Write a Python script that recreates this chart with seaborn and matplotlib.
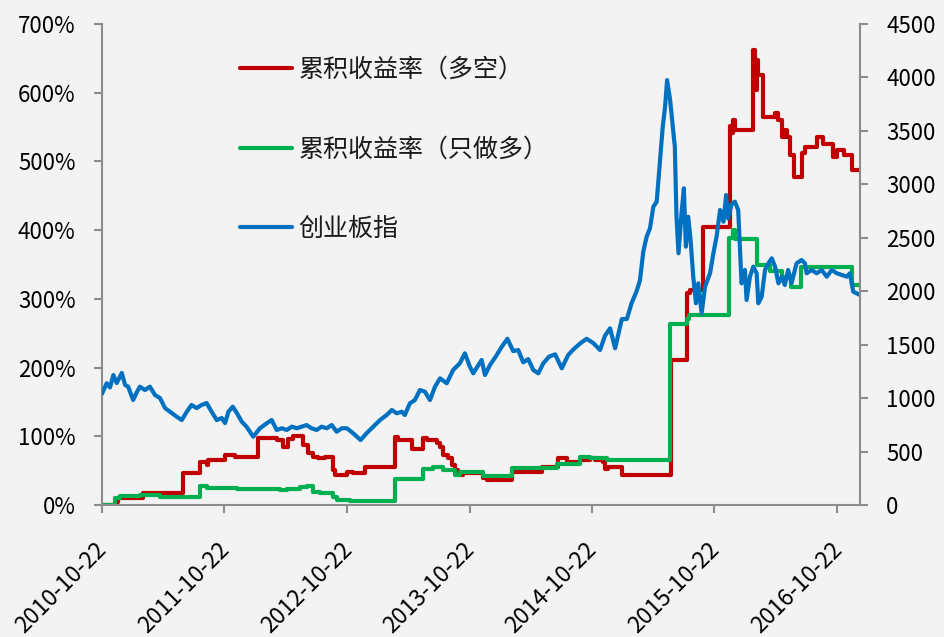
import matplotlib
matplotlib.use("Agg")
import matplotlib.pyplot as plt
import matplotlib.dates as mdates
from matplotlib.ticker import FuncFormatter, MultipleLocator
from matplotlib.transforms import ScaledTranslation
import seaborn as sns
import pandas as pd

# --- data ---
# 累积收益率（多空）: step series, date of change -> cumulative return (%)
ls_dates = ["2010-10-22", "2010-12-05", "2010-12-10", "2011-02-22", "2011-06-21", "2011-08-10",
            "2011-08-30", "2011-09-04", "2011-10-24", "2011-11-23", "2012-01-31", "2012-03-26",
            "2012-04-15", "2012-04-30", "2012-05-14", "2012-06-13", "2012-06-28", "2012-07-13",
            "2012-07-28", "2012-08-17", "2012-09-11", "2012-09-16", "2012-10-23", "2012-11-09",
            "2012-12-14", "2013-03-14", "2013-03-23", "2013-05-02", "2013-06-06", "2013-06-16",
            "2013-07-16", "2013-07-26", "2013-08-05", "2013-08-20", "2013-08-30", "2013-09-09",
            "2013-09-18", "2013-10-03", "2013-12-01", "2013-12-12", "2014-02-25", "2014-05-25",
            "2014-07-14", "2014-08-08", "2014-09-16", "2014-10-16", "2014-10-31", "2014-11-25",
            "2014-11-30", "2014-12-10", "2015-01-19", "2015-06-14", "2015-08-02", "2015-08-10",
            "2015-09-19", "2015-12-07", "2015-12-12", "2015-12-17", "2015-12-22", "2016-02-15",
            "2016-02-20", "2016-02-25", "2016-03-01", "2016-03-16", "2016-04-20", "2016-04-30",
            "2016-05-10", "2016-05-19", "2016-05-26", "2016-06-03", "2016-06-16", "2016-07-08",
            "2016-07-18", "2016-08-22", "2016-09-11", "2016-10-11", "2016-10-21", "2016-11-10",
            "2016-12-04", "2016-12-29"]
ls_values = [0, 5, 10, 17, 46, 63, 58, 66, 73, 70, 97, 95, 85, 96, 101, 88, 75, 70, 68, 70,
             51, 44, 48, 46, 55, 99, 95, 81, 98, 95, 90, 85, 73, 68, 58, 51, 44, 47, 39, 36,
             48, 56, 69, 62, 65, 68, 66, 63, 53, 56, 43, 211, 308, 313, 405, 551, 542, 561, 546, 662,
             604, 648, 626, 565, 570, 560, 536, 546, 536, 509, 478, 512, 521, 536, 526, 507, 517, 509,
             488, 488]

# 累积收益率（只做多）
lo_dates = ["2010-10-22", "2010-11-30", "2010-12-15", "2011-02-12", "2011-04-13", "2011-08-10",
            "2011-08-30", "2011-11-28", "2012-02-05", "2012-04-05", "2012-04-25", "2012-06-03",
            "2012-06-23", "2012-07-13", "2012-08-02", "2012-08-27", "2012-09-11", "2012-09-21",
            "2012-10-30", "2013-03-14", "2013-06-06", "2013-07-05", "2013-08-05", "2013-09-09",
            "2013-09-23", "2013-12-02", "2014-02-25", "2014-07-09", "2014-09-16", "2014-10-16",
            "2014-12-05", "2014-12-21", "2015-06-12", "2015-08-01", "2015-08-08", "2015-12-06",
            "2015-12-15", "2015-12-22", "2016-02-25", "2016-04-05", "2016-05-10", "2016-06-06",
            "2016-07-05", "2016-12-04", "2016-12-29"]
lo_values = [0, 10, 13, 14, 12, 27, 25, 24, 23, 22, 24, 26, 27, 19, 17, 18, 11, 7, 6, 38,
             52, 55, 51, 44, 48, 42, 54, 60, 70, 68, 65, 66, 264, 271, 277, 388, 400, 387, 349, 340,
             332, 318, 347, 320, 320]

# 创业板指 (right axis)
idx_dates = [
    "2010-10-22", "2010-11-05", "2010-11-15", "2010-11-25", "2010-12-05", "2010-12-20", "2010-12-30",
    "2011-01-08", "2011-01-23", "2011-02-02", "2011-02-12", "2011-02-27", "2011-03-14", "2011-03-29",
    "2011-04-13", "2011-04-28", "2011-05-18", "2011-06-02", "2011-06-17", "2011-07-02", "2011-07-16",
    "2011-07-31", "2011-08-15", "2011-08-30", "2011-09-14", "2011-09-29", "2011-10-14", "2011-10-24",
    "2011-11-03", "2011-11-16", "2011-11-28", "2011-12-13", "2011-12-27",
    "2012-01-16", "2012-02-05", "2012-02-25", "2012-03-11", "2012-03-26", "2012-04-10", "2012-04-25",
    "2012-05-10", "2012-05-25", "2012-06-08", "2012-06-23", "2012-07-08", "2012-07-23", "2012-08-07",
    "2012-08-22", "2012-09-06", "2012-09-21", "2012-10-06", "2012-10-21", "2012-11-09", "2012-12-01",
    "2012-12-19",
    "2013-01-08", "2013-01-28", "2013-02-17", "2013-03-04", "2013-03-19", "2013-04-03", "2013-04-12",
    "2013-04-27", "2013-05-12", "2013-05-27", "2013-06-11", "2013-06-26", "2013-07-11", "2013-07-26",
    "2013-08-15", "2013-09-03", "2013-09-23", "2013-10-08", "2013-10-23", "2013-11-02", "2013-11-27",
    "2013-12-07", "2013-12-22",
    "2014-01-11", "2014-01-26", "2014-02-12", "2014-03-01", "2014-03-16", "2014-03-31", "2014-04-15",
    "2014-04-30", "2014-05-15", "2014-05-30", "2014-06-16", "2014-07-04", "2014-07-24", "2014-08-12",
    "2014-08-29", "2014-09-16", "2014-10-06", "2014-10-26", "2014-11-15", "2014-11-30", "2014-12-15",
    "2014-12-30",
    "2015-01-19", "2015-02-03", "2015-02-17", "2015-03-04", "2015-03-14", "2015-03-24", "2015-04-03",
    "2015-04-13", "2015-04-23", "2015-05-03", "2015-05-13", "2015-05-21", "2015-05-28", "2015-06-03",
    "2015-06-12", "2015-06-20", "2015-06-26", "2015-07-01", "2015-07-07", "2015-07-16", "2015-07-23",
    "2015-07-29", "2015-08-05", "2015-08-12", "2015-08-20", "2015-08-28", "2015-09-04", "2015-09-14",
    "2015-09-24", "2015-10-09", "2015-10-19", "2015-10-29", "2015-11-08", "2015-11-18", "2015-11-26",
    "2015-12-02", "2015-12-12", "2015-12-22",
    "2016-01-01", "2016-01-06", "2016-01-11", "2016-01-21", "2016-01-26", "2016-02-05", "2016-02-15",
    "2016-02-25", "2016-03-01", "2016-03-11", "2016-03-21", "2016-03-31", "2016-04-10", "2016-04-20",
    "2016-04-30", "2016-05-10", "2016-05-19", "2016-05-29", "2016-06-08", "2016-06-23", "2016-07-08",
    "2016-07-18", "2016-07-23", "2016-08-07", "2016-08-22", "2016-09-06", "2016-09-21", "2016-10-06",
    "2016-10-21", "2016-11-05", "2016-11-20", "2016-11-29", "2016-12-09", "2016-12-19", "2016-12-29"]
idx_values = [
    1040, 1139, 1100, 1216, 1141, 1235, 1123,
    1107, 982, 1050, 1107, 1076, 1107, 1029, 1001, 907, 861, 826, 795, 873, 936, 907, 936, 954,
    873, 795, 814, 767, 873, 920, 861, 779, 733,
    639, 718, 764, 795, 702, 718, 702, 733, 718, 733, 748, 718, 702, 733, 718, 748, 686, 718, 718,
    671, 608, 671,
    733, 795, 842, 889, 858, 873, 842, 951, 982, 1076, 1060, 982, 1107, 1185, 1139, 1263, 1326,
    1419, 1294, 1232, 1357, 1216, 1310,
    1403, 1481, 1555, 1440, 1450, 1335, 1365, 1263, 1232, 1326, 1388, 1410, 1279, 1403, 1460, 1510,
    1555, 1515, 1450, 1585, 1653, 1466,
    1740, 1740, 1887, 2000, 2100, 2370, 2510, 2589, 2791, 2838, 3228, 3539, 3726, 3976, 3789, 3539,
    3352, 2697, 2355, 2729, 2963, 2417, 2697, 2479, 2136, 1887, 2074, 1793, 2043, 2168, 2355, 2520,
    2760, 2650, 2900, 2680, 2810, 2838,
    2760, 2417, 2074, 2199, 1918, 2136, 2230, 2168, 1887, 1949, 2199, 2261, 2308, 2230, 2074, 2136,
    2058, 2199, 2074, 2261, 2292, 2261, 2168, 2199, 2168, 2199, 2136, 2199, 2168, 2152, 2136, 2168,
    1996, 1981, 1965]

series_labels = ["累积收益率（多空）", "累积收益率（只做多）", "创业板指"]
tick_dates = ["2010-10-22", "2011-10-22", "2012-10-22", "2013-10-22",
              "2014-10-22", "2015-10-22", "2016-10-22"]
x_start, x_end = "2010-10-22", "2016-12-29"

# --- style ---
sns.set_theme(style="ticks")
plt.rcParams["font.family"] = ["Noto Sans CJK SC", "DejaVu Sans"]
bg = "#f3f3f3"
spine_c = "#8c8c8c"

fig = plt.figure(figsize=(9.45, 6.37), dpi=100, facecolor=bg)
ax = fig.add_axes([0.1079, 0.2072, 0.8021, 0.7551], facecolor=bg)
ax2 = ax.twinx()

sns.lineplot(x=pd.to_datetime(ls_dates), y=ls_values, ax=ax, color="#c00000",
             linewidth=3, drawstyle="steps-post", estimator=None)
sns.lineplot(x=pd.to_datetime(lo_dates), y=lo_values, ax=ax, color="#00b050",
             linewidth=3, drawstyle="steps-post", estimator=None)
sns.lineplot(x=pd.to_datetime(idx_dates), y=idx_values, ax=ax2, color="#0070c0",
             linewidth=3, estimator=None)

ax.set_xlim(pd.Timestamp(x_start), pd.Timestamp(x_end))
ax.set_ylim(0, 700)
ax2.set_ylim(0, 4500)
ax.yaxis.set_major_locator(MultipleLocator(100))
ax.yaxis.set_major_formatter(FuncFormatter(lambda v, p: f"{v:.0f}%"))
ax2.yaxis.set_major_locator(MultipleLocator(500))

ax.set_xticks(pd.to_datetime(tick_dates))
ax.xaxis.set_major_formatter(mdates.DateFormatter("%Y-%m-%d"))
ax.set_xlabel("")
ax.set_ylabel("")
ax2.set_ylabel("")

for a in (ax, ax2):
    for side in ("left", "right", "bottom"):
        a.spines[side].set_color(spine_c)
        a.spines[side].set_linewidth(1.5)
    a.spines["top"].set_visible(False)
ax.spines["right"].set_visible(False)
ax2.spines["left"].set_visible(False)
ax2.spines["bottom"].set_visible(False)

ax.tick_params(axis="y", direction="out", length=6, width=1.5, color=spine_c,
               labelsize=16, labelcolor="black", pad=13)
ax2.tick_params(axis="y", direction="out", length=6, width=1.5, color=spine_c,
                labelsize=16, labelcolor="black", pad=13)
ax.tick_params(axis="x", direction="out", length=6, width=1.5, color=spine_c,
               labelsize=16.5, labelcolor="black", pad=18)
shift = ScaledTranslation(-0.07, 0, fig.dpi_scale_trans)
for lab in ax.get_xticklabels():
    lab.set_rotation(45)
    lab.set_ha("right")
    lab.set_va("top")
    lab.set_rotation_mode("anchor")
    lab.set_transform(lab.get_transform() + shift)

# --- legend ---
for a in (ax, ax2):
    if a.get_legend() is not None:
        a.get_legend().remove()
handles = [ax.lines[0], ax.lines[1], ax2.lines[0]]
ax2.legend(handles, series_labels, loc="upper left", bbox_to_anchor=(0.182, 0.932),
           frameon=False, fontsize=18, handlelength=2.1, handletextpad=0.25,
           labelspacing=2.15, borderpad=0, borderaxespad=0, labelcolor="#1a1a1a")

fig.savefig("out.png", dpi=100, facecolor=bg)
